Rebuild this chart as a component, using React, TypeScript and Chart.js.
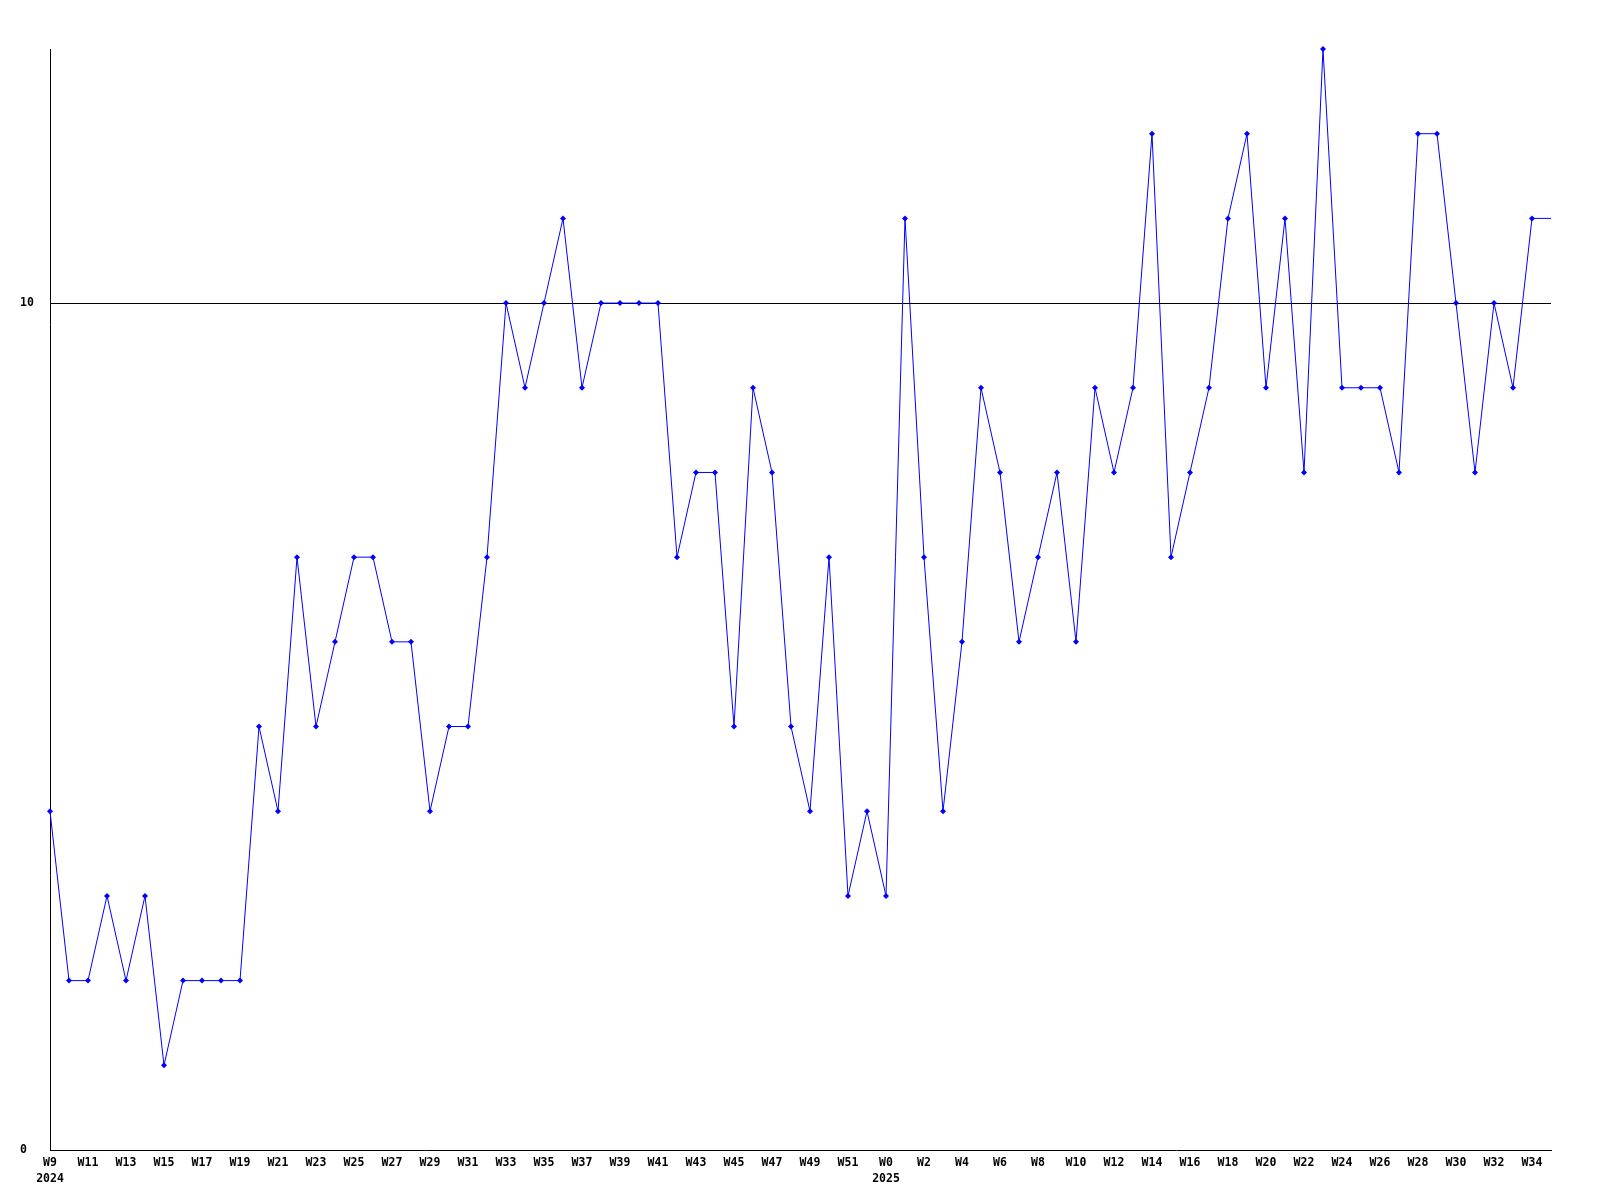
import React, { useEffect, useRef } from "react";
import { Chart, registerables } from "chart.js";

Chart.register(...registerables);

const weekLabels: string[] = [
  "W9", "W10", "W11", "W12", "W13", "W14", "W15", "W16", "W17", "W18",
  "W19", "W20", "W21", "W22", "W23", "W24", "W25", "W26", "W27", "W28",
  "W29", "W30", "W31", "W32", "W33", "W34", "W35", "W36", "W37", "W38",
  "W39", "W40", "W41", "W42", "W43", "W44", "W45", "W46", "W47", "W48",
  "W49", "W50", "W51", "W52",
  "W0", "W1", "W2", "W3", "W4", "W5", "W6", "W7", "W8", "W9",
  "W10", "W11", "W12", "W13", "W14", "W15", "W16", "W17", "W18", "W19",
  "W20", "W21", "W22", "W23", "W24", "W25", "W26", "W27", "W28", "W29",
  "W30", "W31", "W32", "W33", "W34", "W35",
];

const yearMarks: { [index: number]: string } = { 0: "2024", 44: "2025" };

const values: number[] = [
  4, 2, 2, 3, 2, 3, 1, 2, 2, 2,
  2, 5, 4, 7, 5, 6, 7, 7, 6, 6,
  4, 5, 5, 7, 10, 9, 10, 11, 9, 10,
  10, 10, 10, 7, 8, 8, 5, 9, 8, 5,
  4, 7, 3, 4,
  3, 11, 7, 4, 6, 9, 8, 6, 7, 8,
  6, 9, 8, 9, 12, 7, 8, 9, 11, 12,
  9, 11, 8, 13, 9, 9, 9, 8, 12, 12,
  10, 8, 10, 9, 11, 11,
];

const yTickValues: number[] = [0, 10];
const yMax = 13;

const FONT_FAMILY = "'DejaVu Sans Mono', 'Liberation Mono', monospace";

export default function App() {
  const canvasRef = useRef<HTMLCanvasElement | null>(null);

  useEffect(() => {
    if (!canvasRef.current) return;
    const lastIndex = values.length - 1;
    const chart = new Chart(canvasRef.current, {
      type: "line",
      data: {
        labels: weekLabels,
        datasets: [
          {
            data: values,
            borderColor: "#0000ff",
            backgroundColor: "#0000ff",
            borderWidth: 1,
            pointStyle: "rectRot",
            pointRadius: (ctx: any) => (ctx.dataIndex === lastIndex ? 0 : 3),
            pointBorderWidth: 0,
            pointBackgroundColor: "#0000ff",
            tension: 0,
            fill: false,
            clip: false as any,
          },
        ],
      },
      options: {
        responsive: false,
        animation: false,
        layout: { padding: { left: 20, right: 49, top: 49, bottom: 0 } },
        plugins: {
          legend: { display: false },
          tooltip: { enabled: false },
          title: { display: false },
        },
        scales: {
          x: {
            type: "category",
            offset: false,
            grid: {
              display: true,
              color: "transparent",
              drawTicks: false,
            },
            border: { display: true, color: "#000000", width: 1 },
            ticks: {
              autoSkip: false,
              maxRotation: 0,
              minRotation: 0,
              padding: 5,
              color: "#000000",
              font: { family: FONT_FAMILY, size: 11.5, weight: "bold", lineHeight: 1.4 },
              callback: (_value: any, index: number) => {
                if (index % 2 !== 0) return "";
                const yr = yearMarks[index];
                return yr ? [weekLabels[index], yr] : weekLabels[index];
              },
            },
            afterFit: (scale: any) => {
              scale.height = 50;
            },
          },
          y: {
            type: "linear",
            min: 0,
            max: yMax,
            grid: {
              display: true,
              drawTicks: false,
              color: (ctx: any) =>
                ctx.tick && ctx.tick.value === 10 ? "#000000" : "transparent",
              lineWidth: 1,
            },
            border: { display: true, color: "#000000", width: 1 },
            ticks: {
              crossAlign: "far",
              padding: 0,
              color: "#000000",
              font: { family: FONT_FAMILY, size: 11.5, weight: "bold" },
            },
            afterBuildTicks: (scale: any) => {
              scale.ticks = yTickValues.map((v) => ({ value: v }));
            },
            afterFit: (scale: any) => {
              scale.width = 30;
            },
          },
        },
      },
    });
    return () => chart.destroy();
  }, []);

  return (
    <div
      style={{
        position: "absolute",
        left: 0,
        top: 0,
        width: 1600,
        height: 1200,
        background: "#ffffff",
      }}
    >
      <canvas ref={canvasRef} width={1600} height={1200} style={{ width: 1600, height: 1200 }} />
    </div>
  );
}
